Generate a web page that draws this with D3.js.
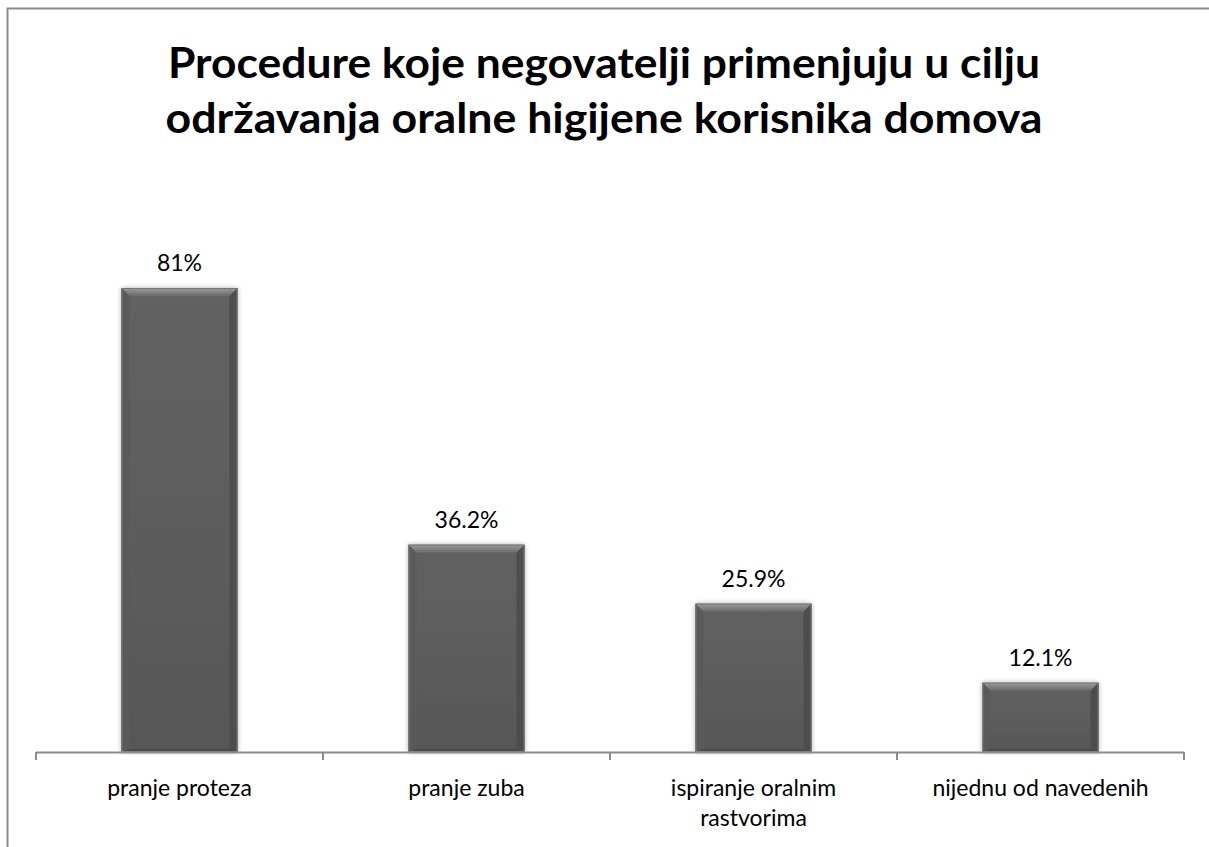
<!DOCTYPE html>
<html>
<head>
<meta charset="utf-8">
<script src="https://cdn.jsdelivr.net/npm/d3@7"></script>
<style>
  body { margin: 0; background: #fff; }
  svg { display: block; }
</style>
</head>
<body>
<div id="chart"></div>
<script>
// data
var categories = ["pranje proteza", "pranje zuba", "ispiranje oralnim rastvorima", "nijednu od navedenih"];
var categoryLines = [["pranje proteza"], ["pranje zuba"], ["ispiranje oralnim", "rastvorima"], ["nijednu od navedenih"]];
var values = [81, 36.2, 25.9, 12.1];
var valueLabels = ["81%", "36.2%", "25.9%", "12.1%"];
var titleLines = ["Procedure koje negovatelji primenjuju u cilju", "održavanja oralne higijene korisnika domova"];

const width = 1209;
const height = 847;
var baseY = 752;
var fontFam = "Lato, 'Open Sans', sans-serif";

var svg = d3.select("#chart").append("svg")
    .attr("width", width)
    .attr("height", height);

var defs = svg.append("defs");

// main face gradient of the bars
var g1 = defs.append("linearGradient").attr("id", "face").attr("x1", 0).attr("y1", 0).attr("x2", 0).attr("y2", 1);
g1.append("stop").attr("offset", "0%").attr("stop-color", "#626262");
g1.append("stop").attr("offset", "100%").attr("stop-color", "#575757");

var gTop = defs.append("linearGradient").attr("id", "bevTop").attr("x1", 0).attr("y1", 0).attr("x2", 0).attr("y2", 1);
gTop.append("stop").attr("offset", "0%").attr("stop-color", "#9c9c9c");
gTop.append("stop").attr("offset", "100%").attr("stop-color", "#6a6a6a");

var shadow = defs.append("filter").attr("id", "shadow").attr("x", "-20%").attr("y", "-20%").attr("width", "140%").attr("height", "140%");
shadow.append("feGaussianBlur").attr("in", "SourceAlpha").attr("stdDeviation", 2.5);
shadow.append("feOffset").attr("dx", 0).attr("dy", 0).attr("result", "blur");
shadow.append("feComponentTransfer").append("feFuncA").attr("type", "linear").attr("slope", 0.3);
var merge = shadow.append("feMerge");
merge.append("feMergeNode");
merge.append("feMergeNode").attr("in", "SourceGraphic");

// outer frame (right and bottom edges fall outside the picture)
svg.append("rect")
    .attr("x", 7.5).attr("y", 8.5)
    .attr("width", 1220).attr("height", 860)
    .attr("fill", "none")
    .attr("stroke", "#8c8c8c")
    .attr("stroke-width", 2);

// title
var title = svg.append("text")
    .attr("text-anchor", "middle")
    .attr("font-family", fontFam)
    .attr("font-weight", "bold")
    .attr("font-size", 42)
    .attr("fill", "#000");
title.selectAll("tspan")
    .data(titleLines)
    .enter()
    .append("tspan")
    .attr("x", 604)
    .attr("y", function(d, i) { return 78 + i * 55; })
    .attr("textLength", function(d, i) { return i == 0 ? 872 : 877; })
    .attr("lengthAdjust", "spacingAndGlyphs")
    .text(function(d) { return d; });

// scales
var x = d3.scaleBand()
    .domain(categories)
    .range([36, 1184])
    .padding(0);

var y = d3.scaleLinear()
    .domain([0, 90])
    .range([baseY, baseY - 90 * 5.728]);

var barW = x.bandwidth() * 0.404;

// bars
var bars = svg.selectAll("g.bar")
    .data(values)
    .enter()
    .append("g")
    .attr("class", "bar")
    .attr("filter", "url(#shadow)");

var bev = 8;
bars.each(function(d, i) {
    var g = d3.select(this);
    var x0 = x(categories[i]) + (x.bandwidth() - barW) / 2;
    var x1 = x0 + barW;
    var y0 = y(d);
    var y1 = y(0);
    g.append("rect")
        .attr("x", x0).attr("y", y0)
        .attr("width", barW).attr("height", y1 - y0)
        .attr("fill", "url(#face)");
    // top bevel
    g.append("polygon")
        .attr("points", [[x0, y0], [x1, y0], [x1 - bev, y0 + bev], [x0 + bev, y0 + bev]].join(" "))
        .attr("fill", "url(#bevTop)");
    // left bevel
    g.append("polygon")
        .attr("points", [[x0, y0], [x0 + bev, y0 + bev], [x0 + bev, y1 - 3], [x0, y1]].join(" "))
        .attr("fill", "#5a5a5a");
    // right bevel
    g.append("polygon")
        .attr("points", [[x1, y0], [x1 - bev, y0 + bev], [x1 - bev, y1 - 3], [x1, y1]].join(" "))
        .attr("fill", "#4e4e4e");
    // bottom edge
    g.append("polygon")
        .attr("points", [[x0, y1], [x0 + bev, y1 - 3], [x1 - bev, y1 - 3], [x1, y1]].join(" "))
        .attr("fill", "#484848");
    g.append("rect")
        .attr("x", x0 + 0.5).attr("y", y0 + 0.5)
        .attr("width", barW - 1).attr("height", y1 - y0 - 1)
        .attr("fill", "none")
        .attr("stroke", "#777")
        .attr("stroke-width", 1);
});

// value labels
svg.selectAll("text.val")
    .data(values)
    .enter()
    .append("text")
    .attr("class", "val")
    .attr("x", function(d, i) { return x(categories[i]) + x.bandwidth() / 2; })
    .attr("y", function(d) { return y(d) - 17; })
    .attr("text-anchor", "middle")
    .attr("font-family", fontFam)
    .attr("font-size", 23)
    .attr("fill", "#000")
    .text(function(d, i) { return valueLabels[i]; });

// x axis
var xAxis = svg.append("g")
    .attr("transform", "translate(0," + baseY + ")");
xAxis.append("line")
    .attr("x1", 36).attr("x2", 1184)
    .attr("y1", 0.5).attr("y2", 0.5)
    .attr("stroke", "#8c8c8c")
    .attr("stroke-width", 2);
var tickPos = categories.map(function(c) { return x(c); }).concat([x.range()[1]]);
xAxis.selectAll("line.tick")
    .data(tickPos)
    .enter()
    .append("line")
    .attr("class", "tick")
    .attr("x1", function(d) { return d; }).attr("x2", function(d) { return d; })
    .attr("y1", 0).attr("y2", 8)
    .attr("stroke", "#8c8c8c")
    .attr("stroke-width", 2);

// category labels
var catText = svg.selectAll("text.cat")
    .data(categoryLines)
    .enter()
    .append("text")
    .attr("class", "cat")
    .attr("text-anchor", "middle")
    .attr("font-family", fontFam)
    .attr("font-size", 23)
    .attr("fill", "#000");
catText.each(function(lines, i) {
    var cx = x(categories[i]) + x.bandwidth() / 2;
    d3.select(this).selectAll("tspan")
        .data(lines)
        .enter()
        .append("tspan")
        .attr("x", cx)
        .attr("y", function(d, j) { return 796 + j * 30; })
        .text(function(d) { return d; });
});
</script>
</body>
</html>
